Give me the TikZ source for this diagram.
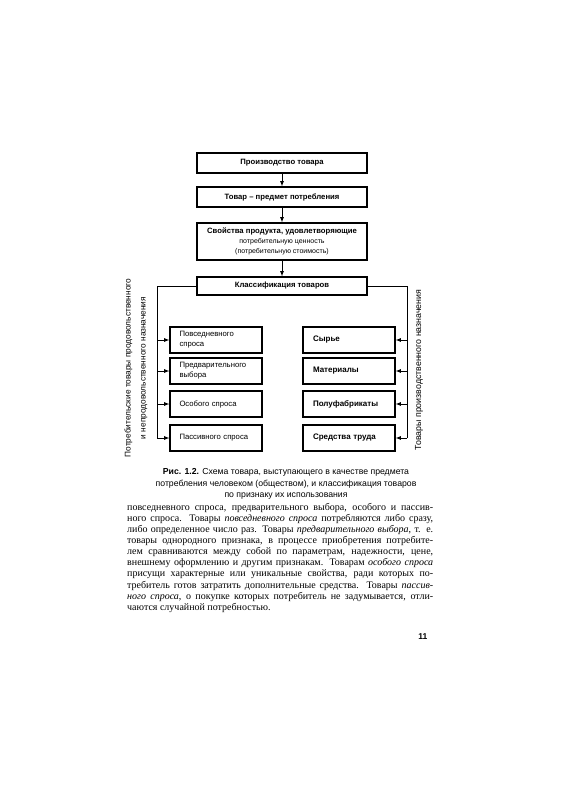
\documentclass[tikz,border=0pt]{standalone}
\usepackage{fontspec}
\setmainfont{Liberation Serif}
\setsansfont{Liberation Sans}
\newcommand{\boxfont}{\sffamily\bfseries\fontsize{7.7}{9}\selectfont}
\newcommand{\sidefont}{\sffamily\fontsize{8.8}{15}\selectfont}
\newcommand{\txtline}[1]{\makebox[306pt][s]{#1}}
\begin{document}
\begin{tikzpicture}[>=latex,x=1pt,y=-1pt,
    box/.style={draw,line width=1.3pt,minimum width=170pt,inner sep=2pt,
      font=\boxfont,align=center},
    leftbox/.style={draw,line width=1.3pt,minimum height=26pt,text width=73pt,
      inner xsep=9.5pt,align=left,font=\sffamily\fontsize{7.7}{10}\selectfont},
    rightbox/.style={leftbox,inner xsep=10pt,text width=72pt,
      font=\sffamily\bfseries\fontsize{8}{10}\selectfont},
    link/.style={->,line width=0.8pt}]
  \useasboundingbox (0,0) rectangle (565,800);
  % top chain
  \node[box,minimum height=20pt] (prod) at (282,163) {Производство товара};
  \node[box,minimum height=20pt] (tovar) at (282,197) {Товар -- предмет потребления};
  \node[box,minimum height=37pt,font=\sffamily\fontsize{7}{9.8}\selectfont] (svoistva) at (282,241.5)
    {{\boxfont Свойства продукта, удовлетворяющие}\\ потребительную ценность\\ (потребительную стоимость)};
  \node[box,minimum height=18pt] (klass) at (282,286) {Классификация товаров};
  \draw[link] (prod) -- (tovar);
  \draw[link] (tovar) -- (svoistva);
  \draw[link] (svoistva) -- (klass);
  % left column
  \node[leftbox] (pos) at (216,340) {Повседневного\\ спроса};
  \node[leftbox] (pred) at (216,371) {Предварительного\\ выбора};
  \node[leftbox] (osob) at (216,404) {Особого спроса};
  \node[leftbox] (pass) at (216,438) {Пассивного спроса};
  % right column
  \node[rightbox] (syr) at (349,340) {Сырье};
  \node[rightbox] (mat) at (349,371) {Материалы};
  \node[rightbox] (polu) at (349,404) {Полуфабрикаты};
  \node[rightbox] (sred) at (349,438) {Средства труда};
  % buses
  \coordinate (lbus) at (157,286);
  \coordinate (rbus) at (407,286);
  \draw[line width=0.9pt] (klass.west) -| (pass.west -| lbus);
  \draw[line width=0.9pt] (klass.east) -| (sred.east -| rbus);
  \foreach \b in {pos,pred,osob,pass}
    \draw[link] (\b.west -| lbus) -- (\b.west);
  \foreach \b in {syr,mat,polu,sred}
    \draw[link] (\b.east -| rbus) -- (\b.east);
  \node[rotate=90,align=center,font=\sffamily\fontsize{8.3}{15}\selectfont] (lcap) at (136,368)
    {Потребительские товары продовольственного\\ и непродовольственного назначения};
  \node[rotate=90,font=\sidefont] (rcap) at (419,370) {Товары производственного назначения};
  % caption and text
  \node[align=center,font=\sffamily\fontsize{8.7}{11.5}\selectfont] (cap) at (286,484)
    {\textbf{Рис. 1.2.} Схема товара, выступающего в качестве предмета\\
     потребления человеком (обществом), и классификация товаров\\
     по признаку их использования};
  \node[anchor=north west,align=left,inner sep=0pt,font=\fontsize{10}{11.1}\selectfont] (body) at (127,503)
    {\txtline{повседневного спроса, предварительного выбора, особого и пассив-}\\
     \txtline{ного спроса. Товары \textit{повседневного спроса} потребляются либо сразу,}\\
     \txtline{либо определенное число раз. Товары \textit{предварительного выбора}, т. е.}\\
     \txtline{товары однородного признака, в процессе приобретения потребите-}\\
     \txtline{лем сравниваются между собой по параметрам, надежности, цене,}\\
     \txtline{внешнему оформлению и другим признакам. Товарам \textit{особого спроса}}\\
     \txtline{присущи характерные или уникальные свойства, ради которых по-}\\
     \txtline{требитель готов затратить дополнительные средства. Товары \textit{пассив-}}\\
     \txtline{\textit{ного спроса}, о покупке которых потребитель не задумывается, отли-}\\
     чаются случайной потребностью.};
  \node[anchor=east,font=\sffamily\bfseries\fontsize{8.5}{9}\selectfont] (page) at (431,637) {11};
\end{tikzpicture}
\end{document}
